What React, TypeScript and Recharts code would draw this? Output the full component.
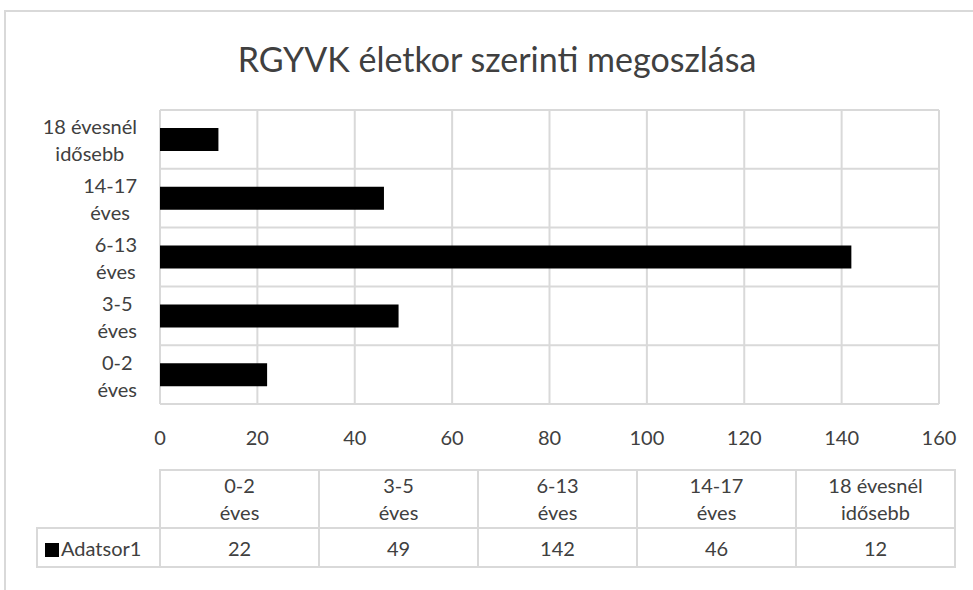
import { Bar, BarChart, CartesianGrid, XAxis, YAxis } from "recharts";

const title = "RGYVK életkor szerinti megoszlása";
const seriesName = "Adatsor1";
const categories = ["0-2\néves", "3-5\néves", "6-13\néves", "14-17\néves", "18 évesnél\nidősebb"];
const values = [22, 49, 142, 46, 12];
const xTicks = [0, 20, 40, 60, 80, 100, 120, 140, 160];

const data = categories.map((c, i) => ({ name: c, value: values[i] }));

const FONT = "Lato, 'Open Sans', sans-serif";
const TEXT = "#404040";
const GRID = "#d9d9d9";
const LABEL_SIZE = 20;

let ctx: CanvasRenderingContext2D | null = null;
function textWidth(s: string) {
    if (!ctx) ctx = document.createElement("canvas").getContext("2d");
    if (!ctx) return s.length * LABEL_SIZE * 0.5;
    ctx.font = `${LABEL_SIZE}px Lato`;
    return ctx.measureText(s).width;
}

function CategoryTick(props: any) {
    const { x, y, payload } = props;
    const lines = String(payload.value).split("\n");
    const w = Math.max(...lines.map(textWidth));
    const cx = x - w / 2;
    return (
        <g>
            {lines.map((l, i) => (
                <text
                    key={i}
                    x={cx}
                    y={y - 13 + i * 27}
                    textAnchor="middle"
                    dominantBaseline="central"
                    fontSize={LABEL_SIZE}
                    fontFamily={FONT}
                    fill={TEXT}
                >
                    {l}
                </text>
            ))}
        </g>
    );
}

const cell: React.CSSProperties = {
    border: `2px solid ${GRID}`,
    textAlign: "center",
    padding: 0,
    color: TEXT,
    fontSize: LABEL_SIZE,
    fontFamily: FONT,
};

export default function App() {
    return (
        <div
            style={{
                position: "absolute",
                left: 0,
                top: 0,
                width: 973,
                height: 590,
                overflow: "hidden",
                background: "#fff",
            }}
        >
            {/* chart frame */}
            <div
                style={{
                    position: "absolute",
                    left: 4,
                    top: 10,
                    width: 1100,
                    height: 700,
                    border: `2px solid ${GRID}`,
                }}
            />
            <div
                style={{
                    position: "absolute",
                    left: 0,
                    top: 37,
                    width: 994,
                    textAlign: "center",
                    fontFamily: FONT,
                    fontSize: 34,
                    color: TEXT,
                    lineHeight: "44px",
                }}
            >
                {title}
            </div>
            <div style={{ position: "absolute", left: 0, top: 0 }}>
                <BarChart
                    width={973}
                    height={590}
                    data={data}
                    layout="vertical"
                    margin={{ top: 110, right: 34, bottom: 146, left: 0 }}
                >
                    <CartesianGrid
                        stroke={GRID}
                        strokeWidth={2}
                        horizontalCoordinatesGenerator={({ offset }: any) =>
                            categories
                                .concat([""])
                                .map((_, i) => offset.top + (i * offset.height) / categories.length)
                        }
                    />
                    <XAxis
                        type="number"
                        domain={[0, 160]}
                        ticks={xTicks}
                        axisLine={false}
                        tickLine={false}
                        tickMargin={21}
                        height={40}
                        interval={0}
                        tick={{ fontSize: LABEL_SIZE, fill: TEXT, fontFamily: FONT }}
                    />
                    <YAxis
                        type="category"
                        dataKey="name"
                        reversed
                        width={160}
                        axisLine={false}
                        tickLine={false}
                        tickSize={0}
                        tickMargin={23}
                        interval={0}
                        tick={<CategoryTick />}
                    />
                    <Bar
                        dataKey="value"
                        name={seriesName}
                        fill="#000"
                        barSize={23}
                        isAnimationActive={false}
                    />
                </BarChart>
            </div>
            {/* data table */}
            <table
                style={{
                    position: "absolute",
                    left: 36,
                    top: 469,
                    borderCollapse: "collapse",
                    tableLayout: "fixed",
                }}
            >
                <tbody>
                    <tr style={{ height: 58 }}>
                        <td style={{ width: 122, padding: 0 }} />
                        {categories.map((c) => (
                            <td key={c} style={{ ...cell, width: 157, lineHeight: "27px" }}>
                                {c.split("\n").map((l, i) => (
                                    <div key={i}>{l}</div>
                                ))}
                            </td>
                        ))}
                    </tr>
                    <tr style={{ height: 39 }}>
                        <td style={{ ...cell, textAlign: "left", paddingLeft: 7, whiteSpace: "nowrap" }}>
                            <span
                                style={{
                                    display: "inline-block",
                                    width: 14,
                                    height: 14,
                                    background: "#000",
                                    marginRight: 2,
                                    verticalAlign: "-1px",
                                }}
                            />
                            {seriesName}
                        </td>
                        {values.map((v, i) => (
                            <td key={i} style={cell}>
                                {v}
                            </td>
                        ))}
                    </tr>
                </tbody>
            </table>
        </div>
    );
}
